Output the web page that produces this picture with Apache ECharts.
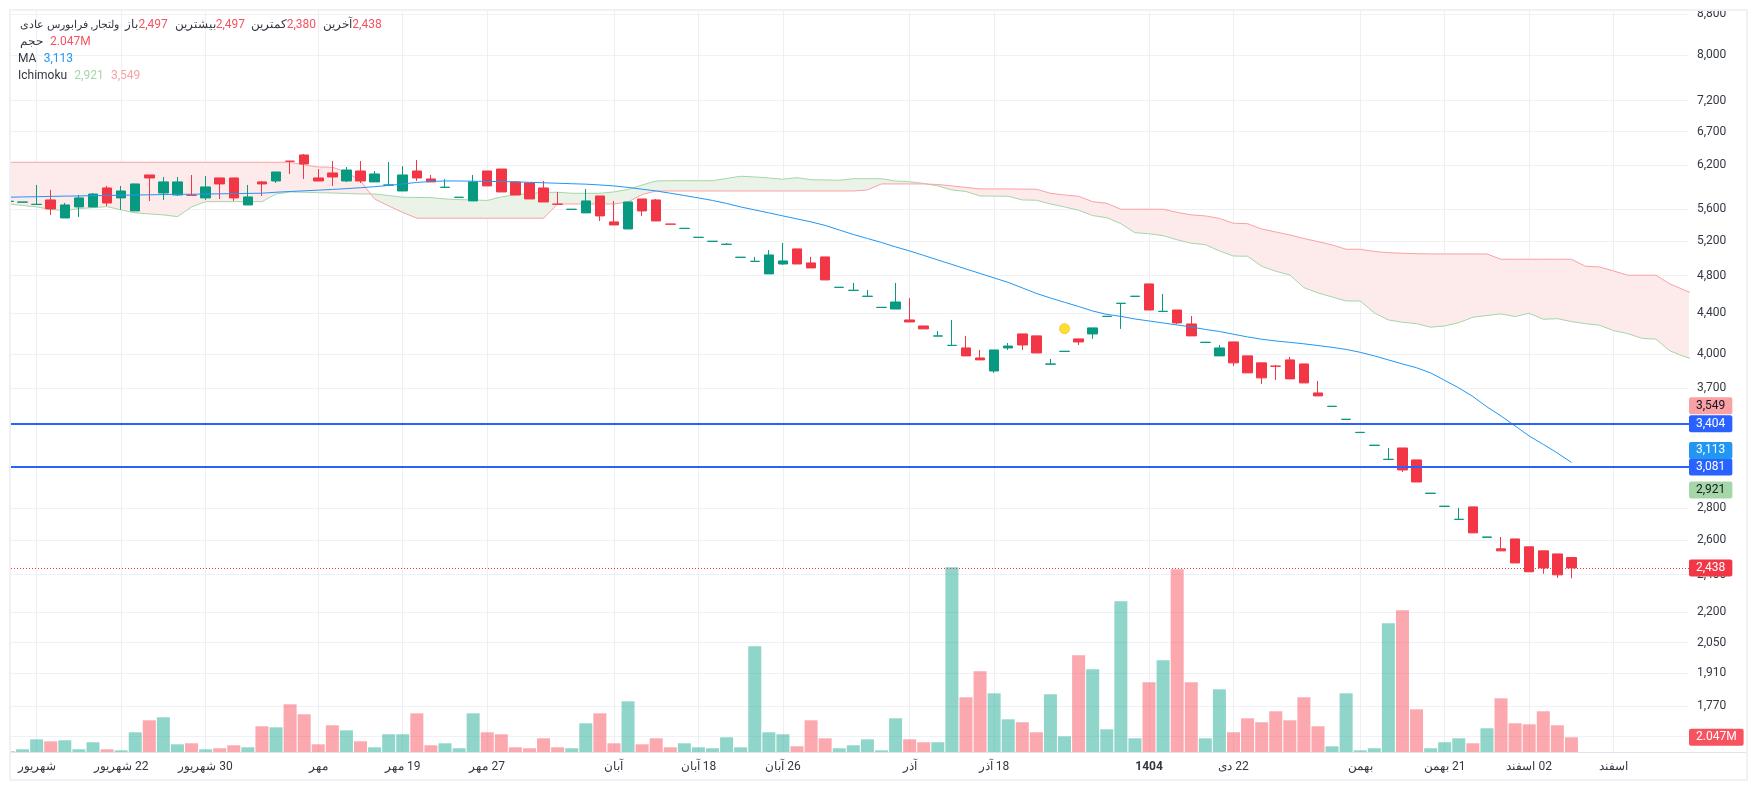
<!DOCTYPE html>
<html><head><meta charset="utf-8">
<style>html,body{margin:0;padding:0;background:#fff}#c{width:1757px;height:790px}</style>
<script src="https://cdn.jsdelivr.net/npm/echarts@6/dist/echarts.min.js"></script>
</head><body><div id="c"></div>
<script>
const opens=[5700,5690,5660,5720,5486,5628,5628,5881,5747,5576,6061,5813,5786,5784,5747,6019,6019,5654,5964,5977,6258,6348,6019,6089,5977,6117,5964,5920,5840,6117,6005,5889,5754,5707,6117,6145,5964,5950,5881,5665,5596,5551,5773,5436,5348,5733,5720,5409,5354,5244,5196,5160,5007,4960,4819,4931,5106,4943,5012,4670,4638,4574,4458,4442,4331,4271,4172,4082,4059,3966,3848,4059,4193,4174,3909,4026,4145,4193,4366,4500,4574,4708,4417,4432,4291,4111,3985,4116,3985,3921,3892,3948,3911,3657,3544,3439,3336,3238,3134,3219,3131,2897,2811,2727,2808,2617,2548,2607,2560,2536,2518,2497];
const closes=[5703,5693,5663,5602,5654,5747,5799,5680,5840,5936,6019,5964,5964,5782,5895,5936,5747,5760,5936,6103,6256,6217,5977,6033,6131,5977,6075,5922,6061,6019,5964,5891,5756,5964,5909,5827,5786,5733,5693,5663,5598,5707,5512,5398,5693,5576,5448,5407,5356,5246,5198,5162,5009,4962,5035,4966,4931,4886,4752,4672,4640,4576,4460,4515,4311,4242,4174,4084,3985,3948,4040,4077,4087,4012,3911,4028,4116,4252,4368,4502,4576,4432,4419,4301,4174,4113,4059,3921,3831,3787,3890,3778,3743,3632,3546,3441,3338,3240,3136,3059,2975,2899,2813,2729,2644,2619,2536,2466,2416,2438,2399,2438];
const lows=[5700,5690,5660,5525,5486,5499,5628,5641,5589,5576,5707,5720,5773,5782,5720,5733,5707,5654,5773,5950,6075,6005,5977,5909,5964,5950,5964,5920,5840,5977,5964,5889,5754,5707,5909,5827,5786,5733,5693,5663,5596,5551,5448,5398,5348,5512,5448,5407,5354,5244,5196,5160,5007,4960,4819,4920,4931,4886,4752,4670,4638,4574,4458,4442,4311,4242,4172,4082,3985,3948,3831,4040,4040,4012,3909,4026,4087,4145,4366,4242,4574,4432,4417,4291,4174,4111,3985,3894,3831,3734,3769,3778,3743,3632,3544,3439,3336,3238,3134,3045,2975,2897,2811,2727,2644,2617,2536,2466,2416,2405,2382,2380];
const highs=[5703,5693,5922,5854,5680,5786,5813,5909,5909,5936,6061,6033,6033,6061,6047,6019,6019,5922,5977,6103,6258,6363,6145,6261,6173,6261,6117,6246,6187,6275,6061,6005,5756,6061,6117,6145,5977,5950,5977,5827,5598,5868,5773,5707,5693,5733,5733,5409,5356,5246,5198,5177,5009,5012,5094,5177,5106,5012,5012,4672,4719,4643,4460,4719,4557,4271,4222,4331,4174,4040,4040,4106,4193,4174,3957,4028,4145,4252,4368,4502,4576,4708,4600,4432,4371,4113,4087,4116,3985,3921,3902,3975,3911,3760,3546,3441,3338,3240,3219,3219,3131,2899,2813,2802,2808,2619,2619,2607,2560,2536,2518,2497];
const volumes=[0.14,0.41,1.77,1.50,1.64,0.41,1.37,0.41,0.27,2.73,4.37,4.78,1.09,1.23,0.41,0.55,0.96,0.68,3.55,3.41,6.55,5.19,1.09,3.69,3.0,1.5,0.68,2.46,2.46,5.32,0.96,1.23,0.55,5.32,2.73,2.46,0.68,0.55,1.91,0.68,0.55,3.96,5.32,1.23,6.96,1.09,1.91,0.68,1.23,0.68,0.55,2.05,0.68,14.47,2.73,2.46,0.82,4.37,1.91,0.55,0.96,1.77,0.27,4.64,1.77,1.37,1.37,25.25,7.51,11.06,8.05,4.50,4.10,2.73,7.92,2.18,13.24,11.33,3.14,20.61,1.91,9.56,12.56,24.98,9.56,1.91,8.6,2.73,4.64,4.10,5.6,4.37,7.51,3.55,0.82,8.05,0.27,0.55,17.61,19.38,5.87,0.55,1.37,1.91,1.23,3.28,7.37,3.96,3.82,5.6,3.69,2.047];
const maValues=[5756,5760,5763,5767,5771,5773,5777,5779,5783,5786,5788,5792,5795,5796,5799,5802,5804,5807,5810,5823,5833,5842,5851,5861,5872,5884,5899,5915,5936,5957,5970,5977,5977,5974,5971,5969,5964,5959,5952,5946,5939,5933,5922,5909,5888,5864,5840,5810,5779,5747,5713,5674,5628,5589,5551,5512,5474,5436,5392,5335,5280,5231,5183,5130,5082,5030,4977,4926,4874,4824,4774,4725,4665,4606,4557,4512,4468,4422,4387,4367,4341,4321,4301,4281,4261,4237,4217,4190,4164,4142,4125,4112,4098,4082,4065,4045,4018,3985,3948,3911,3877,3831,3765,3700,3627,3541,3467,3388,3310,3246,3182,3113];
const spanA=[5667,5647,5628,5596,5580,5606,5619,5632,5589,5551,5538,5525,5503,5628,5697,5697,5697,5697,5697,5799,5827,5823,5817,5813,5806,5799,5799,5779,5756,5753,5751,5733,5724,5720,5713,5760,5790,5806,5820,5823,5809,5809,5809,5827,5861,5922,5977,5981,5981,5981,5981,6012,6043,6033,6019,6001,6023,5995,5991,5987,6009,6009,6009,5977,5967,5943,5909,5854,5833,5773,5771,5769,5720,5716,5667,5628,5585,5516,5490,5414,5302,5289,5265,5215,5174,5157,5082,5023,5020,4905,4849,4807,4668,4611,4568,4526,4526,4402,4331,4308,4294,4259,4271,4304,4358,4376,4392,4365,4399,4338,4344,4314,4294,4278,4225,4196,4151,4142,4031,3980,3939];
const spanB=[6242,6242,6242,6242,6242,6242,6242,6242,6242,6242,6242,6242,6242,6242,6242,6242,6242,6242,6242,6242,6242,6203,6174,6170,6103,5977,5733,5641,5557,5483,5483,5483,5483,5483,5483,5483,5483,5483,5483,5667,5667,5667,5667,5667,5693,5792,5840,5840,5840,5840,5840,5840,5840,5840,5840,5840,5840,5840,5840,5840,5840,5854,5936,5936,5936,5936,5929,5909,5888,5868,5868,5868,5865,5864,5809,5786,5769,5697,5676,5598,5598,5598,5598,5558,5525,5512,5480,5419,5414,5348,5311,5274,5231,5193,5154,5102,5102,5076,5062,5055,5050,5047,5047,5047,5047,5047,4985,4985,4985,4985,4985,4985,4905,4897,4852,4804,4804,4804,4708,4643,4579];
const priceTicks=[8800,8000,7200,6700,6200,5600,5200,4800,4400,4000,3700,2800,2600,2400,2200,2050,1910,1770,1650];
const tickIdx=[2,8,14,22,28,34,43,49,55,64,70,81,87,96,102,108,114];
const tickLabels=['شهریور','\u200F22 شهریور','\u200F30 شهریور','مهر','\u200F19 مهر','\u200F27 مهر','آبان','\u200F18 آبان','\u200F26 آبان','آذر','\u200F18 آذر','1404','\u200F22 دی','بهمن','\u200F21 بهمن','\u200F02 اسفند','اسفند'];
const markerIdx=75, markerPrice=4244;
const UP='#089981',DOWN='#f23645',FONT='Roboto, "Noto Sans", sans-serif';
const PINK='#faa1a4',LIME='#a5d6a7',BLUE='#2962ff',SKY='#2196f3',GRID='#f0f1f4',TXT='#333842';

const chart=echarts.init(document.getElementById('c'),null,{renderer:'canvas'});
const fmt=v=>Math.round(v).toLocaleString('en-US');

function tag(price,text,bg,fg,extra){
  return Object.assign({yAxis:price,symbol:'none',lineStyle:{color:'rgba(0,0,0,0)',width:1,type:'solid'},
    label:{show:true,position:'end',distance:0,formatter:text,backgroundColor:bg,color:fg,fontFamily:FONT,fontSize:12,padding:[3,7,2,7],borderRadius:2}},extra||{});
}
function legendText(x,y,text,fill,align,size){
  return {type:'text',z:120,style:{x:x,y:y,text:text,fill:fill,font:(size||12)+'px '+FONT,align:align||'left',verticalAlign:'middle'}};
}
function cloudRender(params,api){
  if(params.dataIndex!==0) return null;
  const runs=[];let cur=null;
  const n=spanA.length;
  for(let i=0;i<n;i++){
    const pa=api.coord([i,spanA[i]]),pb=api.coord([i,spanB[i]]);
    const s=spanA[i]>=spanB[i]?1:-1;
    if(cur&&cur.s!==s){
      const qa=api.coord([i-1,spanA[i-1]]),qb=api.coord([i-1,spanB[i-1]]);
      const d0=qa[1]-qb[1],d1=pa[1]-pb[1],t=d0/(d0-d1);
      const cx=qa[0]+(pa[0]-qa[0])*t,cy=qa[1]+(pa[1]-qa[1])*t;
      cur.a.push([cx,cy]);cur.b.push([cx,cy]);
      runs.push(cur);
      cur={s:s,a:[[cx,cy]],b:[[cx,cy]]};
    }
    if(!cur) cur={s:s,a:[],b:[]};
    cur.a.push(pa);cur.b.push(pb);
  }
  runs.push(cur);
  return {type:'group',children:runs.map(r=>({type:'polygon',shape:{points:r.a.concat(r.b.slice().reverse())},
    style:{fill:r.s>0?'#ebf3e9':'#fdeaea',stroke:null},silent:true}))};
}

const option={
  animation:false,backgroundColor:'#fff',textStyle:{fontFamily:FONT},
  grid:{left:11,top:11,width:1678,height:741.3,containLabel:false},
  xAxis:{type:'value',min:0.178,max:119.35,
    axisLine:{show:false},axisTick:{show:false,customValues:tickIdx},
    splitLine:{show:true,lineStyle:{color:'#eeeff2',width:1}},
    axisLabel:{show:true,customValues:tickIdx,margin:8.5,color:TXT,fontFamily:FONT,fontSize:12,hideOverlap:false,
      showMinLabel:true,showMaxLabel:true,
      formatter:v=>{const t=tickLabels[tickIdx.indexOf(Math.round(v))];return t==='1404'?'{b|1404}':t;},
      rich:{b:{fontWeight:'bold',fontSize:12,fontFamily:FONT,color:TXT}}}},
  yAxis:[
    {type:'log',logBase:10,min:1590,max:8863,position:'right',scale:true,
     axisLine:{show:false},axisTick:{show:false,customValues:priceTicks},
     splitLine:{show:true,lineStyle:{color:GRID,width:1}},
     axisLabel:{show:true,customValues:priceTicks,margin:8,color:TXT,fontFamily:FONT,fontSize:12,formatter:fmt,showMinLabel:true,showMaxLabel:true,hideOverlap:false}},
    {type:'value',min:0,max:101.2,show:false,splitLine:{show:false}}
  ],
  series:[
    {type:'bar',name:'Volume',yAxisIndex:1,barWidth:13,z:1,
     data:volumes.map((v,i)=>({value:[i,v],itemStyle:{color:closes[i]>=opens[i]?'rgba(34,171,148,.5)':'rgba(247,82,95,.5)'}})),
     markLine:{silent:true,animation:false,symbol:'none',z:10,data:[tag(2.047,'2.047M','#f7525f','#fff')]}},
    {type:'custom',name:'cloud',clip:true,z:1,silent:true,renderItem:cloudRender,encode:{x:0,y:1},
     data:spanA.map((v,i)=>[i,v])},
    {type:'line',name:'Ichimoku A',data:spanA.map((v,i)=>[i,v]),symbol:'none',z:2,lineStyle:{color:LIME,width:1},silent:true},
    {type:'line',name:'Ichimoku B',data:spanB.map((v,i)=>[i,v]),symbol:'none',z:2,lineStyle:{color:PINK,width:1},silent:true},
    {type:'candlestick',name:'ولتجار',barWidth:10,z:3,encode:{x:0,y:[1,2,3,4]},
     itemStyle:{color:UP,color0:DOWN,borderColor:UP,borderColor0:DOWN,borderWidth:1},
     data:opens.map((o,i)=>[i,o,closes[i],lows[i],highs[i]])},
    {type:'line',name:'MA',data:maValues.map((v,i)=>[i,v]),symbol:'none',z:4,lineStyle:{color:SKY,width:1},silent:true,
     markLine:{silent:true,animation:false,symbol:'none',z:10,data:[
       {yAxis:3404,symbol:'none',lineStyle:{color:BLUE,width:2,type:'solid'},label:{show:true,position:'end',distance:0,formatter:'3,404',backgroundColor:BLUE,color:'#fff',fontFamily:FONT,fontSize:12,padding:[3,7,2,7],borderRadius:2}},
       {yAxis:3081,symbol:'none',lineStyle:{color:BLUE,width:2,type:'solid'},label:{show:true,position:'end',distance:0,formatter:'3,081',backgroundColor:BLUE,color:'#fff',fontFamily:FONT,fontSize:12,padding:[3,7,2,7],borderRadius:2}},
       {yAxis:2438,symbol:'none',lineStyle:{color:DOWN,width:1,type:[1,2]},label:{show:true,position:'end',distance:0,formatter:'2,438',backgroundColor:DOWN,color:'#fff',fontFamily:FONT,fontSize:12,padding:[3,7,2,7],borderRadius:2}},
       tag(3549,'3,549',PINK,'#131722'),
       tag(2921,'2,921',LIME,'#131722'),
       (()=>{const t=tag(3113,'3,113',SKY,'#fff');t.label.offset=[0,-12];return t;})()
     ]}},
    {type:'scatter',name:'marker',data:[[markerIdx,markerPrice]],symbolSize:10,z:5,silent:true,
     itemStyle:{color:'#ffd600',borderColor:'#f5c518',borderWidth:1}}
  ],
  graphic:{elements:[
    {type:'rect',z:100,silent:true,shape:{x:0,y:0,width:9,height:790},style:{fill:'#fff'}},
    {type:'rect',z:100,silent:true,shape:{x:0,y:0,width:1757,height:9},style:{fill:'#fff'}},
    {type:'rect',z:101,silent:true,shape:{x:10,y:10,width:1737,height:770},style:{fill:'none',stroke:'#f0f1f6',lineWidth:2}},
    {type:'line',z:99,silent:true,shape:{x1:11,y1:752.5,x2:1746,y2:752.5},style:{stroke:'#e0e3eb',lineWidth:1}},
    legendText(119,25,'ولتجار, فرابورس عادی','#333842','right',11),
    legendText(138,25,'باز','#333842','right'),legendText(138.5,25,'2,497','#f7525f'),
    legendText(215.5,25,'بیشترین','#333842','right'),legendText(215.7,25,'2,497','#f7525f'),
    legendText(286.5,25,'کمترین','#333842','right'),legendText(286.7,25,'2,380','#f7525f'),
    legendText(352,25,'آخرین','#333842','right'),legendText(352.3,25,'2,438','#f7525f'),
    legendText(43,42,'حجم','#333842','right'),legendText(50,42,'2.047M','#f7525f'),
    legendText(18,59,'MA','#333842'),legendText(43.7,59,'3,113',SKY),
    legendText(18,76,'Ichimoku','#333842'),legendText(74.3,76,'2,921',LIME),legendText(111,76,'3,549',PINK)
  ]}
};
chart.setOption(option);
</script></body></html>
